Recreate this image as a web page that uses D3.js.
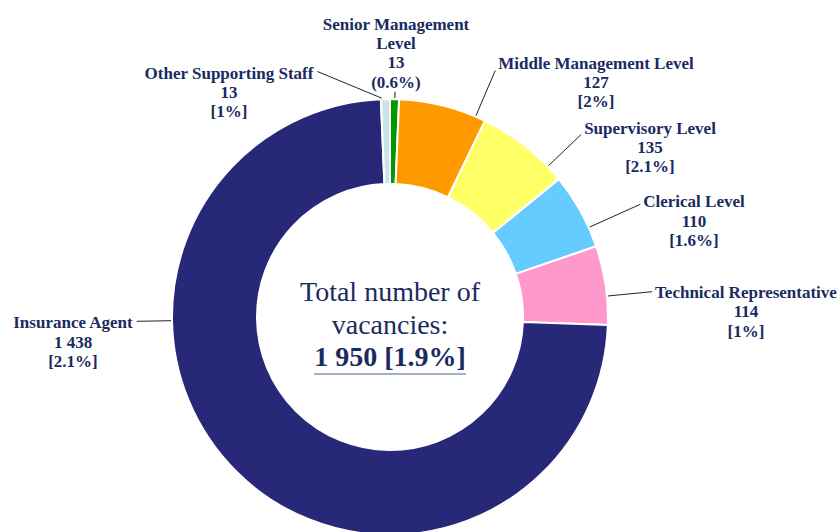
<!DOCTYPE html>
<html lang="en">
<head>
    <meta charset="UTF-8">
    <title>Vacancies by occupation level</title>
    <script src="https://d3js.org/d3.v7.min.js"></script>
    <style>
      body { margin: 0; background: #fff; }
      text { font-family: "Liberation Serif", "Times New Roman", serif; fill: #1a2b5f; }
    </style>
</head>
<body>
  <script>
    // Data, clockwise from 12 o'clock
    var categories = ["Senior Management Level", "Middle Management Level", "Supervisory Level",
                      "Clerical Level", "Technical Representative", "Insurance Agent", "Other Supporting Staff"];
    var vacancies  = [13, 127, 135, 110, 114, 1438, 13];
    var rates      = ["(0.6%)", "[2%]", "[2.1%]", "[1.6%]", "[1%]", "[2.1%]", "[1%]"];
    var colors     = ["#009a00", "#ff9900", "#ffff66", "#66ccff", "#ff99cc", "#282878", "#cde5ea"];
    var totalLabel = ["Total number of", "vacancies:"];
    var totalRate  = "[1.9%]";

    // label layout: centre x, first baseline, name split into lines, side the leader leaves from
    var labelLayout = [
      {x: 396, y: 29.5, lines: ["Senior Management", "Level"], side: "bottom", dy: 4},
      {x: 596, y: 68.5, lines: ["Middle Management Level"], side: "left", dy: 2},
      {x: 650, y: 133.5, lines: ["Supervisory Level"], side: "left", dy: 1},
      {x: 694, y: 207.3, lines: ["Clerical Level"], side: "left", dy: -3},
      {x: 746, y: 297.7, lines: ["Technical Representative"], side: "left", dy: -6},
      {x: 73, y: 328.3, lines: ["Insurance Agent"], side: "right", dy: -7},
      {x: 229, y: 78.5, lines: ["Other Supporting Staff"], side: "right", dy: -7}
    ];

    var width = 839, height = 532,
        cx = 390, cy = 317,
        outerR = 218, innerR = 133,
        lineH = 19.4;

    var fmt = d3.formatLocale({decimal: ".", thousands: " ", grouping: [3], currency: ["", ""]}).format(",d");

    var svg = d3.select("body").append("svg")
        .attr("width", width)
        .attr("height", height);

    var g = svg.append("g")
        .attr("transform", "translate(" + cx + "," + cy + ")");

    var pie = d3.pie().sort(null).value(function(d) { return d; });
    var arcs = pie(vacancies);
    var arc = d3.arc().innerRadius(innerR).outerRadius(outerR);

    g.selectAll("path.slice")
      .data(arcs)
      .enter().append("path")
        .attr("class", "slice")
        .attr("d", arc)
        .style("fill", function(d, i) { return colors[i]; })
        .style("stroke", "#fff")
        .style("stroke-width", 2);

    // labels
    labelLayout.forEach(function(lay, i) {
      var lines = lay.lines.concat([fmt(vacancies[i]), rates[i]]);
      var t = svg.append("text")
          .attr("text-anchor", "middle")
          .style("font-size", "17px")
          .style("font-weight", "bold");
      lines.forEach(function(s, k) {
        t.append("tspan")
          .attr("x", lay.x)
          .attr("y", lay.y + k * lineH)
          .text(s);
      });

      // leader anchor on the label
      var first = t.select("tspan").node();
      var w = first.getComputedTextLength();
      var ax, ay;
      if (lay.side === "left") { ax = lay.x - w / 2 - 3; ay = lay.y + lay.dy; }
      else if (lay.side === "right") { ax = lay.x + w / 2 + 4; ay = lay.y + lay.dy; }
      else { ax = lay.x - 1; ay = lay.y + (lines.length - 1) * lineH + lay.dy; }

      // point on the slice's outer edge closest to the label
      var a = Math.atan2(ax - cx, -(ay - cy));
      if (a < 0) a += 2 * Math.PI;
      var s0 = arcs[i].startAngle, s1 = arcs[i].endAngle;
      var m = Math.min(2 * Math.PI / 180, (s1 - s0) * 0.1);
      if (i === labelLayout.length - 1 && a < s0) a = Math.max(a, s0 + m);
      a = Math.max(s0 + m, Math.min(s1 - m, a));
      var ex = cx + (outerR + 1) * Math.sin(a),
          ey = cy - (outerR + 1) * Math.cos(a);

      svg.append("line")
        .attr("x1", ax).attr("y1", ay)
        .attr("x2", ex).attr("y2", ey)
        .style("stroke", "#222")
        .style("stroke-width", 1);
    });

    // centre text
    var total = d3.sum(vacancies);
    var ct = svg.append("text")
        .attr("text-anchor", "middle")
        .style("font-size", "28px");
    totalLabel.forEach(function(s, k) {
      ct.append("tspan").attr("x", cx).attr("y", 301 + k * 32.5).text(s);
    });
    var tot = svg.append("text")
        .attr("x", cx)
        .attr("y", 366)
        .attr("text-anchor", "middle")
        .style("font-size", "28px")
        .style("font-weight", "bold")
        .text(fmt(total) + " " + totalRate);
    var tw = tot.node().getComputedTextLength();
    svg.append("line")
      .attr("x1", cx - tw / 2).attr("x2", cx + tw / 2)
      .attr("y1", 374).attr("y2", 374)
      .style("stroke", "#8496b0")
      .style("stroke-width", 1.5);
  </script>
</body>
</html>
